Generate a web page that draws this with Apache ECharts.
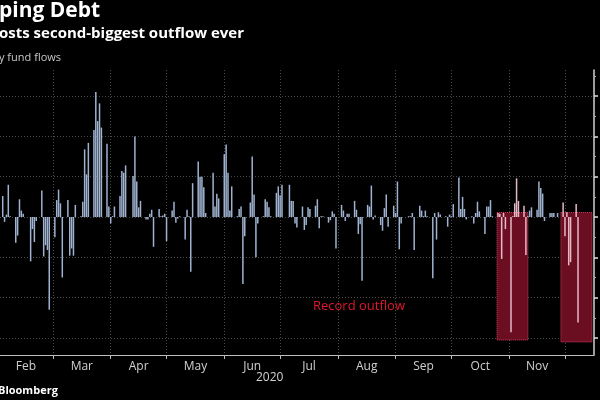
<!DOCTYPE html>
<html>
<head>
<meta charset="utf-8">
<script src="https://cdn.jsdelivr.net/npm/echarts@6/dist/echarts.min.js"></script>
<style>
html,body{margin:0;padding:0;background:#000;}
#c{width:600px;height:400px;}
</style>
</head>
<body>
<div id="c"></div>
<script>
// Daily fund flows (units: $ billions, one gridline = 0.5)
const startDate = '2020-02-03';
const holidays = ['2020-02-17','2020-04-10','2020-05-25','2020-07-03','2020-09-07','2020-11-26'];
const flows = [
  0.26,-0.06,0.03,0.40,0.01,-0.32,-0.23,0.22,0.08,0.04,-0.55,-0.15,-0.31,-0.05,0.33,-0.49,-0.35,-0.41,-1.15,
  -0.25,0.21,0.34,0.17,-0.75,0.21,-0.48,-0.39,-0.48,0.15,0.01,0.19,0.84,0.53,0.92,1.08,1.55,1.19,1.41,1.11,0.91,0.13,-0.08,0.01,0.13,0.26,0.57,0.55,0.64,
  0.51,1.00,0.44,0.12,0.20,-0.03,-0.03,0.04,0.09,-0.37,0.10,0.01,0.02,0.04,-0.30,0.08,0.19,-0.07,-0.02,0.01,-0.28,0.09,0.01,-0.68,0.42,0.69,0.50,0.50,0.37,0.05,0.55,0.13,0.29,0.23,0.78,0.90,0.55,0.08,0.38,0.01,0.10,0.13,-0.83,-0.24,0.18,
  0.75,0.28,-0.50,-0.08,0.01,0.22,0.19,0.12,0.01,0.30,0.38,0.27,0.40,0.40,0.20,0.20,-0.08,-0.13,0.13,-0.16,-0.10,0.12,0.10,0.14,0.22,-0.14,0.01,0.01,-0.07,-0.04,0.07,0.04,-0.39,0.15,0.08,-0.05,0.04,0.04,0.20,0.09,-0.21,-0.09,-0.79,0.15,0.13,
  0.39,-0.03,0.02,-0.10,-0.17,0.11,0.28,-0.12,0.14,0.05,0.44,-0.40,-0.08,0.01,0.01,0.05,-0.41,0.14,0.08,0.01,0.08,0.01,-0.76,0.05,-0.28,0.06,0.03,0.01,-0.12,0.03,0.01,0.16,0.49,0.10,0.25,0.10,-0.03,0.01,-0.08,0.05,0.19,0.07,-0.21,0.13,0.13,
  0.21,0.01,0.05,0.04,-0.52,0.05,-0.15,-1.43,0.01,0.17,0.48,0.20,0.14,-0.47,0.01,0.08,0.12,0.09,0.44,0.36,0.29,-0.05,0.05,0.05,0.05,0.05,0.18,-0.24,0.06,-0.60,-0.56,0.16,-1.31
];
// Axis ticks / labels
const monthStarts = ['2020-02-01','2020-03-01','2020-04-01','2020-05-01','2020-06-01','2020-07-01','2020-08-01','2020-09-01','2020-10-01','2020-11-01','2020-12-01'];
const monthNames = ['Feb','Mar','Apr','May','Jun','Jul','Aug','Sep','Oct','Nov'];
const yMajorTicks = [-1.5,-1,-0.5,0,0.5,1,1.5];
const yMinorTicks = [-1.25,-0.75,-0.25,0.25,0.75,1.25,1.75];
// Highlight boxes: [start, top, end, bottom]
const boxes = [
  ['2020-10-25T12:00:00', 0.056, '2020-11-11T02:00:00', -1.526],
  ['2020-11-28T19:00:00', 0.056, '2020-12-15T12:00:00', -1.55]
];

function ts(s){return new Date(s.length===10?s+'T00:00:00':s).getTime();}
function pad(n){return n<10?'0'+n:''+n;}
function tradingDays(start, n){
  const out=[]; const d=new Date(start+'T00:00:00');
  while(out.length<n){
    const s=d.getFullYear()+'-'+pad(d.getMonth()+1)+'-'+pad(d.getDate());
    const wd=d.getDay();
    if(wd!==0 && wd!==6 && holidays.indexOf(s)<0) out.push(s);
    d.setDate(d.getDate()+1);
  }
  return out;
}
const dates = tradingDays(startDate, flows.length);
const seriesData = dates.map((d,i)=>[ts(d), flows[i]]);
const tickTs = monthStarts.map(ts);
const labelTs = monthNames.map((m,i)=>(tickTs[i]+tickTs[i+1])/2);
const labelMap = {};
labelTs.forEach((t,i)=>{labelMap[t]=monthNames[i];});

const chart = echarts.init(document.getElementById('c'), null, {renderer:'canvas'});
const gridColor = '#4a4a4a';
chart.setOption({
  backgroundColor:'#000',
  animation:false,
  textStyle:{fontFamily:'Open Sans'},
  grid:{left:0,right:6,top:70,bottom:45,containLabel:false},
  visualMap:{
    type:'piecewise',show:false,seriesIndex:1,dimension:0,
    pieces:boxes.map(b=>({gte:ts(b[0]),lte:ts(b[2]),color:'#e4b8c6'})),
    outOfRange:{color:'#9fb3d0'}
  },
  xAxis:{
    type:'value',
    min:ts('2020-02-01T13:00:00'),
    max:ts('2020-12-16T14:00:00'),
    axisLine:{show:true,onZero:false,lineStyle:{color:'#bdbdbd',width:1}},
    axisTick:{show:true,customValues:tickTs,length:4,lineStyle:{color:'#bdbdbd'}},
    axisLabel:{show:true,customValues:labelTs,color:'#d0d0d0',fontSize:12,margin:6,
      formatter:function(v){return labelMap[v]||'';}},
    splitLine:{show:true,lineStyle:{color:gridColor,type:[1,2],width:1}}
  },
  yAxis:[{
    type:'value',position:'right',min:-1.712,max:1.824,
    axisLine:{show:true,lineStyle:{color:'#d0d0d0',width:1.5}},
    axisTick:{show:true,inside:false,customValues:yMajorTicks,length:4,lineStyle:{color:'#e0e0e0',width:1.5}},
    axisLabel:{show:false,customValues:yMajorTicks},
    splitLine:{show:true,lineStyle:{color:gridColor,type:[1,2],width:1}}
  },{
    type:'value',position:'right',min:-1.712,max:1.824,
    axisLine:{show:false},
    axisTick:{show:true,inside:false,customValues:yMinorTicks,length:2,lineStyle:{color:'#aaaaaa'}},
    axisLabel:{show:false,customValues:yMinorTicks},
    splitLine:{show:false}
  }],
  series:[{
    type:'line',
    data:[],
    z:1,
    markArea:{
      silent:true,
      itemStyle:{color:'#6c0e22',borderColor:'#c8405e',borderWidth:1,borderType:[1,1]},
      data:boxes.map(b=>[{coord:[ts(b[0]),b[1]]},{coord:[ts(b[2]),b[3]]}])
    }
  },{
    name:'Daily fund flows',
    type:'bar',
    data:seriesData,
    barWidth:1.5,
    z:3
  }],
  graphic:[
    {type:'text',left:-1,top:1,style:{text:'ping Debt',fill:'#fff',font:'bold 21px "Open Sans"'}},
    {type:'text',left:-1,top:26,style:{text:'osts second-biggest outflow ever',fill:'#fff',font:'bold 15px "Open Sans"'}},
    {type:'text',left:-1,top:52,style:{text:'y fund flows',fill:'#c8c8c8',font:'11px "Open Sans"'}},
    {type:'text',left:313,top:300,style:{text:'Record outflow',fill:'#e3162e',font:'13px "Open Sans"'}},
    {type:'text',left:256,top:372,style:{text:'2020',fill:'#d0d0d0',font:'12px "Open Sans"'}},
    {type:'text',left:-2,top:385,style:{text:'Bloomberg',fill:'#fff',font:'bold 11px "Open Sans"'}}
  ]
});
</script>
</body>
</html>
